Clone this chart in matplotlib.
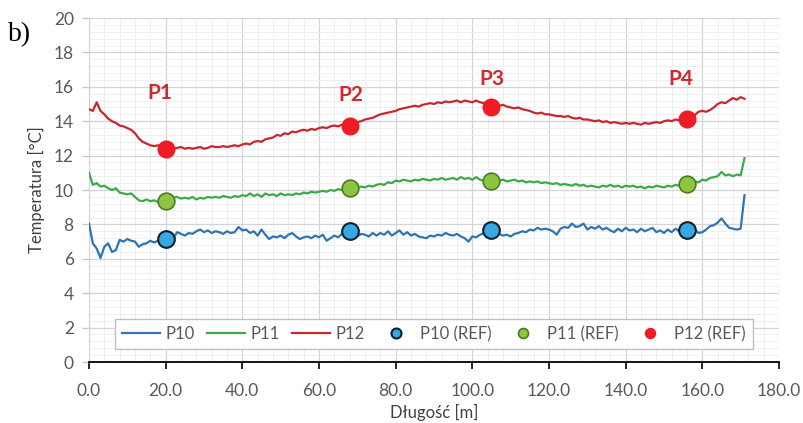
import numpy as np
import matplotlib
matplotlib.use("Agg")
import matplotlib.pyplot as plt
from matplotlib.ticker import MultipleLocator, FormatStrFormatter

plt.rcParams['font.family'] = ['Lato', 'DejaVu Sans']

# distance along the profile [m], one reading per metre
dist = list(range(0, 172))

p12 = [14.7, 14.6, 15.1, 14.6, 14.4, 14.15, 14.0, 13.9, 13.75, 13.7,
       13.6, 13.5, 13.3, 13.0, 12.8, 12.7, 12.6, 12.55, 12.6, 12.45,
       12.45, 12.5, 12.4, 12.45, 12.5, 12.4, 12.45, 12.4, 12.45, 12.5,
       12.4, 12.45, 12.55, 12.5, 12.5, 12.55, 12.5, 12.55, 12.6, 12.55,
       12.65, 12.7, 12.65, 12.8, 12.85, 12.8, 12.95, 13.0, 13.05, 13.2,
       13.15, 13.3, 13.25, 13.4, 13.35, 13.45, 13.5, 13.45, 13.55, 13.5,
       13.6, 13.65, 13.6, 13.7, 13.75, 13.7, 13.8, 13.75, 13.8, 13.85,
       13.95, 14.0, 14.1, 14.15, 14.2, 14.3, 14.4, 14.45, 14.5, 14.55,
       14.6, 14.7, 14.75, 14.8, 14.85, 14.9, 14.85, 14.95, 15.0, 15.05,
       15.0, 15.1, 15.05, 15.15, 15.1, 15.15, 15.2, 15.1, 15.2, 15.15,
       15.1, 15.2, 15.1, 15.05, 15.1, 15.0, 14.95, 14.9, 14.95, 14.85,
       14.8, 14.75, 14.8, 14.7, 14.65, 14.6, 14.5, 14.45, 14.5, 14.4,
       14.4, 14.35, 14.3, 14.3, 14.25, 14.3, 14.2, 14.15, 14.2, 14.1,
       14.1, 14.05, 14.0, 14.05, 13.95, 14.0, 13.9, 13.95, 13.9, 13.85,
       13.9, 13.85, 13.9, 13.85, 13.8, 13.9, 13.85, 13.9, 13.95, 13.9,
       14.0, 14.05, 14.0, 14.1, 14.05, 14.15, 14.1, 14.2, 14.35, 14.55,
       14.6, 14.55, 14.65, 14.8, 15.0, 15.1, 15.05, 15.2, 15.35, 15.25,
       15.4, 15.3]

p11 = [11.0, 10.3, 10.4, 10.2, 10.25, 10.1, 10.0, 10.1, 9.85, 9.8,
       9.75, 9.8, 9.6, 9.4, 9.35, 9.45, 9.35, 9.4, 9.3, 9.35,
       9.4, 9.45, 9.55, 9.6, 9.5, 9.55, 9.5, 9.6, 9.45, 9.55,
       9.5, 9.6, 9.55, 9.6, 9.55, 9.65, 9.6, 9.55, 9.65, 9.6,
       9.7, 9.65, 9.8, 9.65, 9.75, 9.6, 9.8, 9.7, 9.75, 9.65,
       9.8, 9.7, 9.75, 9.7, 9.8, 9.75, 9.85, 9.8, 9.9, 9.85,
       9.9, 9.95, 9.9, 10.0, 9.95, 10.05, 10.0, 10.1, 10.05, 10.15,
       10.1, 10.2, 10.15, 10.25, 10.2, 10.3, 10.35, 10.3, 10.45, 10.4,
       10.55, 10.5, 10.6, 10.55, 10.5, 10.6, 10.55, 10.65, 10.6, 10.55,
       10.65, 10.6, 10.7, 10.6, 10.65, 10.7, 10.6, 10.75, 10.65, 10.7,
       10.6, 10.75, 10.6, 10.55, 10.65, 10.6, 10.7, 10.55, 10.6, 10.5,
       10.55, 10.6, 10.5, 10.55, 10.45, 10.5, 10.45, 10.5, 10.4, 10.45,
       10.4, 10.35, 10.4, 10.3, 10.35, 10.3, 10.25, 10.35, 10.25, 10.3,
       10.2, 10.25, 10.2, 10.15, 10.25, 10.2, 10.3, 10.2, 10.25, 10.15,
       10.25, 10.2, 10.25, 10.15, 10.2, 10.1, 10.2, 10.15, 10.25, 10.2,
       10.15, 10.25, 10.2, 10.3, 10.25, 10.3, 10.35, 10.4, 10.5, 10.45,
       10.6, 10.55, 10.7, 10.75, 10.8, 11.05, 10.85, 10.9, 10.8, 10.9,
       10.85, 11.85]

p10 = [8.05, 6.9, 6.6, 6.05, 6.7, 6.9, 6.4, 6.5, 7.1, 7.0,
       7.15, 7.05, 7.0, 6.7, 6.85, 6.9, 7.05, 6.95, 7.05, 7.1,
       7.15, 7.35, 7.2, 7.55, 7.45, 7.35, 7.5, 7.45, 7.6, 7.7,
       7.55, 7.65, 7.5, 7.6, 7.55, 7.45, 7.6, 7.5, 7.55, 7.85,
       7.65, 7.7, 7.5, 7.6, 7.35, 7.7, 7.4, 7.15, 7.3, 7.25,
       7.35, 7.2, 7.4, 7.5, 7.3, 7.15, 7.25, 7.3, 7.2, 7.35,
       7.25, 7.4, 7.05, 7.2, 7.35, 7.25, 7.45, 7.5, 7.55, 7.4,
       7.3, 7.45, 7.4, 7.3, 7.5, 7.35, 7.5, 7.4, 7.6, 7.35,
       7.5, 7.65, 7.4, 7.55, 7.35, 7.45, 7.3, 7.25, 7.2, 7.35,
       7.3, 7.4, 7.35, 7.5, 7.4, 7.35, 7.45, 7.3, 7.2, 7.0,
       7.3, 7.25, 7.4, 7.5, 7.6, 7.65, 7.55, 7.45, 7.35, 7.4,
       7.3, 7.45, 7.5, 7.6, 7.55, 7.7, 7.65, 7.8, 7.7, 7.75,
       7.7, 7.6, 7.4, 7.75, 7.85, 7.8, 8.05, 7.85, 7.9, 8.05,
       7.7, 7.85, 7.75, 7.9, 7.7, 7.8, 7.65, 7.55, 7.75, 7.6,
       7.8, 7.65, 7.7, 7.55, 7.75, 7.6, 7.7, 7.8, 7.55, 7.65,
       7.5, 7.7, 7.55, 7.75, 7.6, 7.7, 7.65, 7.6, 7.7, 7.5,
       7.55, 7.7, 7.9, 7.95, 8.1, 8.35, 8.05, 7.8, 7.75, 7.7,
       7.75, 9.7]

# reference measurements
ref_x = [20, 68, 105, 156]
ref_p10 = [7.15, 7.6, 7.7, 7.65]
ref_p11 = [9.35, 10.1, 10.55, 10.35]
ref_p12 = [12.4, 13.7, 14.8, 14.1]
point_labels = ['P1', 'P2', 'P3', 'P4']
label_x = [18.5, 68.3, 105.2, 154.3]
label_y = [15.65, 15.5, 16.45, 16.45]

fig = plt.figure(figsize=(8.04, 4.23), dpi=100)
ax = fig.add_axes([0.1107, 0.1442, 0.8582, 0.8132])

ax.plot(dist, p10, color='#2E75B6', lw=1.6, label='P10', zorder=3)
ax.plot(dist, p11, color='#3BAA49', lw=1.6, label='P11', zorder=3)
ax.plot(dist, p12, color='#C7272D', lw=1.6, label='P12', zorder=3)
ax.plot(ref_x, ref_p10, 'o', ms=12, mfc='#35A9E1', mec='#10202E', mew=1.5,
        label='P10 (REF)', zorder=4)
ax.plot(ref_x, ref_p11, 'o', ms=12, mfc='#8CC540', mec='#4E7A27', mew=1.2,
        label='P11 (REF)', zorder=4)
ax.plot(ref_x, ref_p12, 'o', ms=12, mfc='#EE1D23', mec='#EE1D23', mew=1.0,
        label='P12 (REF)', zorder=4)

for lab, lx, ly in zip(point_labels, label_x, label_y):
    ax.text(lx, ly, lab, color='#D0282E', fontsize=15, fontweight='bold',
            ha='center', va='center')

ax.set_xlim(0, 180)
ax.set_ylim(0, 20)
ax.xaxis.set_major_locator(MultipleLocator(20))
ax.xaxis.set_minor_locator(MultipleLocator(4))
ax.yaxis.set_major_locator(MultipleLocator(2))
ax.yaxis.set_minor_locator(MultipleLocator(0.4))
ax.xaxis.set_major_formatter(FormatStrFormatter('%.1f'))

ax.grid(which='major', color='#D4D4D4', lw=0.9, zorder=0)
ax.grid(which='minor', color='#EDEDED', lw=0.6, zorder=0)
ax.set_axisbelow(True)

for s in ['top', 'right']:
    ax.spines[s].set_visible(False)
ax.spines['left'].set_color('#D4D4D4')
ax.spines['bottom'].set_color('black')
ax.spines['bottom'].set_linewidth(1.3)

ax.tick_params(axis='x', which='major', direction='out', length=5, width=1.2,
               color='black', labelsize=12.5, labelcolor='#595959', pad=10)
ax.tick_params(axis='y', which='major', direction='out', length=5, width=1,
               color='#C8C8C8', labelsize=12.5, labelcolor='#595959', pad=6)
ax.tick_params(which='minor', length=0)

ax.set_xlabel('Długość [m]', fontsize=12, color='#404040', labelpad=4)
ax.set_ylabel('Temperatura [°C]', fontsize=12, color='#404040', labelpad=6)

leg = ax.legend(loc='lower left', bbox_to_anchor=(0.038, 0.038, 0.924, 0.09),
                mode='expand', ncol=6, fontsize=12, frameon=True, fancybox=False,
                handlelength=2.3, handletextpad=0.3, columnspacing=1.0,
                markerscale=0.6, borderaxespad=0, borderpad=0.4)
leg.get_frame().set_edgecolor('#BFBFBF')
leg.get_frame().set_linewidth(1.0)
leg.get_frame().set_alpha(1)
for t in leg.get_texts():
    t.set_color('#595959')

fig.text(8 / 804, 1 - 35 / 423, 'b)', fontsize=20, family='Liberation Serif',
         va='center', ha='left', color='black')

fig.savefig('out.png', dpi=100)
